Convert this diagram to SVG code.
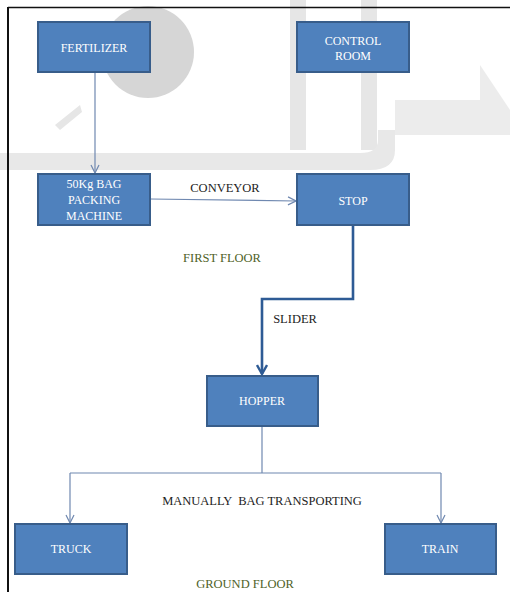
<svg xmlns="http://www.w3.org/2000/svg" width="510" height="592" viewBox="0 0 510 592">
<style>
.box{fill:#4f81bd;stroke:#385d8a;stroke-width:2}
.bt{font-family:"Liberation Serif",serif;font-size:12px;fill:#ffffff;text-anchor:middle}
.lt{font-family:"Liberation Serif",serif;font-size:12.5px;fill:#222222;text-anchor:middle}
.ft{font-family:"Liberation Serif",serif;font-size:12.5px;fill:#4f6228;text-anchor:middle}
.thin{fill:none;stroke:#6f88b0;stroke-width:1.2}
.thick{fill:none;stroke:#2e5b95;stroke-width:2.6}
</style>
<defs>
<marker id="ah" viewBox="0 0 10 10" refX="9" refY="5" markerWidth="10" markerHeight="10" markerUnits="userSpaceOnUse" orient="auto">
<path d="M1,1 L9,5 L1,9" fill="none" stroke="#6f88b0" stroke-width="1.2"/>
</marker>
<marker id="ahb" viewBox="0 0 12 12" refX="10" refY="6" markerWidth="12" markerHeight="12" markerUnits="userSpaceOnUse" orient="auto">
<path d="M1,1 L10,6 L1,11" fill="none" stroke="#2e5b95" stroke-width="2.4"/>
</marker>
</defs>
<rect x="0" y="0" width="510" height="592" fill="#ffffff"/>
<g id="watermark">
<circle cx="148" cy="52" r="46" fill="#d6d6d6"/>
<rect x="290" y="0" width="16" height="150" fill="#e6e6e6"/>
<rect x="361" y="0" width="16" height="150" fill="#e6e6e6"/>
<path d="M0,153 L360,153 Q378,153 378,140 L378,130 L395,130 L395,150 Q395,170 370,170 L0,170 Z" fill="#e8e8e8"/>
<path d="M395,100 L480,100 L480,65 L510,110 L510,135 L395,135 Z" fill="#ececec"/>
<path d="M55,125 L80,105 L82,112 L60,130 Z" fill="#e6e6e6"/>
</g>
<g id="frame">
<line x1="8" y1="7.5" x2="510" y2="7.5" stroke="#111" stroke-width="1.6"/>
<line x1="8" y1="7" x2="8" y2="592" stroke="#111" stroke-width="2"/>
</g>
<g id="connectors">
<line class="thin" x1="95" y1="72" x2="95" y2="173" marker-end="url(#ah)"/>
<line class="thin" x1="150" y1="199" x2="296" y2="201" marker-end="url(#ah)"/>
<polyline class="thick" points="353,225 353,299 262,299 262,374" marker-end="url(#ahb)"/>
<line class="thin" x1="262" y1="426" x2="262" y2="473"/>
<line class="thin" x1="70" y1="473" x2="441" y2="473"/>
<line class="thin" x1="70" y1="473" x2="70" y2="523" marker-end="url(#ah)"/>
<line class="thin" x1="441" y1="473" x2="441" y2="523" marker-end="url(#ah)"/>
</g>
<g id="fertilizer">
<rect class="box" x="38" y="22" width="112" height="50"/>
<text class="bt" x="94" y="52">FERTILIZER</text>
</g>
<g id="control-room">
<rect class="box" x="297" y="22" width="112" height="50"/>
<text class="bt" x="353" y="45">CONTROL</text>
<text class="bt" x="353" y="60">ROOM</text>
</g>
<g id="packing-machine">
<rect class="box" x="38" y="174" width="112" height="51"/>
<text class="bt" x="94" y="188">50Kg BAG</text>
<text class="bt" x="94" y="204">PACKING</text>
<text class="bt" x="94" y="220">MACHINE</text>
</g>
<g id="stop">
<rect class="box" x="297" y="174" width="112" height="51"/>
<text class="bt" x="353" y="205">STOP</text>
</g>
<g id="hopper">
<rect class="box" x="207" y="376" width="111" height="50"/>
<text class="bt" x="262" y="405">HOPPER</text>
</g>
<g id="truck">
<rect class="box" x="15" y="524" width="112" height="50"/>
<text class="bt" x="71" y="553">TRUCK</text>
</g>
<g id="train">
<rect class="box" x="385" y="524" width="111" height="50"/>
<text class="bt" x="440" y="553">TRAIN</text>
</g>
<g id="labels">
<text class="lt" x="225" y="192">CONVEYOR</text>
<text class="ft" x="222" y="262">FIRST FLOOR</text>
<text class="lt" x="295" y="323">SLIDER</text>
<text class="lt" x="262" y="505" xml:space="preserve">MANUALLY  BAG TRANSPORTING</text>
<text class="ft" x="245" y="588">GROUND FLOOR</text>
</g>
</svg>
